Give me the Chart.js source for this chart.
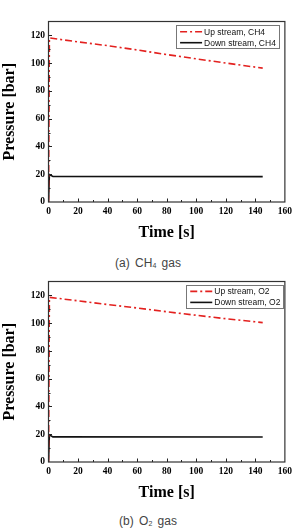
<!DOCTYPE html>
<html><head><meta charset="utf-8">
<script src="https://cdn.jsdelivr.net/npm/chart.js@4.4.1/dist/chart.umd.min.js"></script>
<style>
html,body{margin:0;padding:0;background:#fff;}
body{width:296px;height:532px;position:relative;overflow:hidden;}
.wrap{position:absolute;left:0;width:296px;height:245px;}
canvas{display:block;}
.cap{position:absolute;left:0;width:296px;text-align:center;font-family:"Liberation Sans",Arial,sans-serif;font-size:12px;color:#444;line-height:14px;word-spacing:2px;}
sub{font-size:7px;vertical-align:-1px;line-height:0;}
</style></head><body>
<div class="wrap" style="top:0px"><canvas id="c1" width="296" height="245"></canvas></div>
<div class="cap" style="top:256px">(a) CH<sub>4</sub> gas</div>
<div class="wrap" style="top:260px"><canvas id="c2" width="296" height="245"></canvas></div>
<div class="cap" style="top:514px">(b) O<sub>2</sub> gas</div>
<script>
// ---- data ----
const xTicks = [0, 20, 40, 60, 80, 100, 120, 140, 160];
const yTicks = [0, 20, 40, 60, 80, 100, 120];

const ch4UpTime = [0, 0.6, 20, 40, 60, 80, 100, 120, 145];
const ch4Up     = [0, 118.2, 115.3, 112.6, 109.5, 106.2, 103.1, 100.1, 96.4];
const ch4DownTime = [0, 0.6, 3, 145];
const ch4Down     = [0, 19.8, 18.4, 18.3];

const o2UpTime = [0, 0.6, 20, 40, 60, 80, 100, 120, 145];
const o2Up     = [0, 118.6, 116.1, 113.4, 110.9, 108.2, 105.7, 103.2, 100.4];
const o2DownTime = [0, 0.6, 3, 145];
const o2Down     = [0, 19.6, 18.1, 18.0];

const pts = (t, v) => t.map((x, i) => ({x: x, y: v[i]}));

// ---- styling helpers ----
const RED = '#e3211f';
const BLK = '#111111';

const decor = {
  id: 'decor',
  afterDatasetsDraw(chart, args, opts) {
    const ctx = chart.ctx;
    const a = chart.chartArea;
    const xs = chart.scales.x, ys = chart.scales.y;
    ctx.save();
    // inner ticks
    ctx.strokeStyle = '#222';
    ctx.lineWidth = 1;
    for (let v = 10; v < 160; v += 10) {
      const px = Math.round(xs.getPixelForValue(v)) + 0.5;
      const len = (v % 20 === 0) ? 3.5 : 2;
      ctx.beginPath(); ctx.moveTo(px, a.bottom); ctx.lineTo(px, a.bottom - len); ctx.stroke();
    }
    for (let v = 10; v < 130; v += 10) {
      const py = Math.round(ys.getPixelForValue(v)) + 0.5;
      const len = (v % 20 === 0) ? 3.5 : 2;
      ctx.beginPath(); ctx.moveTo(a.left, py); ctx.lineTo(a.left + len, py); ctx.stroke();
    }
    // frame
    ctx.strokeStyle = '#333';
    ctx.lineWidth = 1.2;
    ctx.strokeRect(a.left, a.top, a.right - a.left, a.bottom - a.top);
    // legend box
    ctx.font = '8.5px "Liberation Sans", Arial, sans-serif';
    const dsets = chart.data.datasets;
    let tw = 0;
    dsets.forEach(d => { tw = Math.max(tw, ctx.measureText(d.label).width); });
    const w = 4 + 22 + 2 + tw + 3;
    const h = 23;
    const bx = a.right - opts.right - w;
    const by = a.top + opts.top;
    ctx.fillStyle = '#fff';
    ctx.fillRect(bx, by, w, h);
    ctx.strokeStyle = '#777';
    ctx.lineWidth = 1;
    ctx.strokeRect(Math.round(bx) + 0.5, Math.round(by) + 0.5, Math.round(w), h);
    dsets.forEach((d, i) => {
      const ry = by + 6.7 + i * 11;
      ctx.strokeStyle = d.borderColor;
      ctx.lineWidth = d.borderWidth;
      ctx.setLineDash(d.borderDash || []);
      ctx.beginPath(); ctx.moveTo(bx + 4, ry); ctx.lineTo(bx + 26, ry); ctx.stroke();
      ctx.setLineDash([]);
      ctx.fillStyle = '#111';
      ctx.textBaseline = 'middle';
      ctx.textAlign = 'left';
      ctx.fillText(d.label, bx + 28, ry + 0.5);
    });
    ctx.restore();
  }
};

const tickFont = {family: '"Liberation Serif", "Times New Roman", serif', weight: 'bold', size: 9.5};
const titleFont = {family: '"Liberation Serif", "Times New Roman", serif', weight: 'bold', size: 16};

function makeChart(id, datasets, legendRight, legendTop) {
  return new Chart(document.getElementById(id), {
    type: 'scatter',
    data: {datasets: datasets},
    options: {
      responsive: false, animation: false, events: [],
      layout: {padding: {left: 0, right: 8, top: 21.5, bottom: 0}},
      plugins: {legend: {display: false}, tooltip: {enabled: false}, decor: {right: legendRight, top: legendTop}},
      elements: {point: {radius: 0}, line: {tension: 0}},
      scales: {
        x: {
          type: 'linear', min: 0, max: 160,
          afterBuildTicks(s) { s.ticks = xTicks.map(v => ({value: v})); },
          afterFit(s) { s.height = 43; },
          grid: {display: false, drawTicks: false},
          border: {display: false},
          ticks: {padding: 4, color: '#000', font: tickFont, maxRotation: 0, autoSkip: false},
          title: {display: true, text: 'Time [s]', color: '#000', font: titleFont, padding: {top: 0, bottom: 2.5}}
        },
        y: {
          type: 'linear', min: 0, max: 130,
          afterBuildTicks(s) { s.ticks = yTicks.map(v => ({value: v})); },
          afterFit(s) { s.width = 48.5; },
          grid: {display: false, drawTicks: false},
          border: {display: false},
          ticks: {padding: 3.5, color: '#000', font: tickFont, autoSkip: false},
          title: {display: true, text: 'Pressure [bar]', color: '#000', font: titleFont, padding: {top: 0.4, bottom: 0}}
        }
      }
    },
    plugins: [decor]
  });
}

makeChart('c1', [
  {label: 'Up stream, CH4', data: pts(ch4UpTime, ch4Up), showLine: true, borderColor: RED, borderWidth: 1.6, borderDash: [7, 3, 2, 3]},
  {label: 'Down stream, CH4', data: pts(ch4DownTime, ch4Down), showLine: true, borderColor: BLK, borderWidth: 1.6}
], 6, 3.5);

makeChart('c2', [
  {label: 'Up stream, O2', data: pts(o2UpTime, o2Up), showLine: true, borderColor: RED, borderWidth: 1.6, borderDash: [7, 3, 2, 3]},
  {label: 'Down stream, O2', data: pts(o2DownTime, o2Down), showLine: true, borderColor: BLK, borderWidth: 1.6}
], 1.5, 3.2);
</script>
</body></html>
